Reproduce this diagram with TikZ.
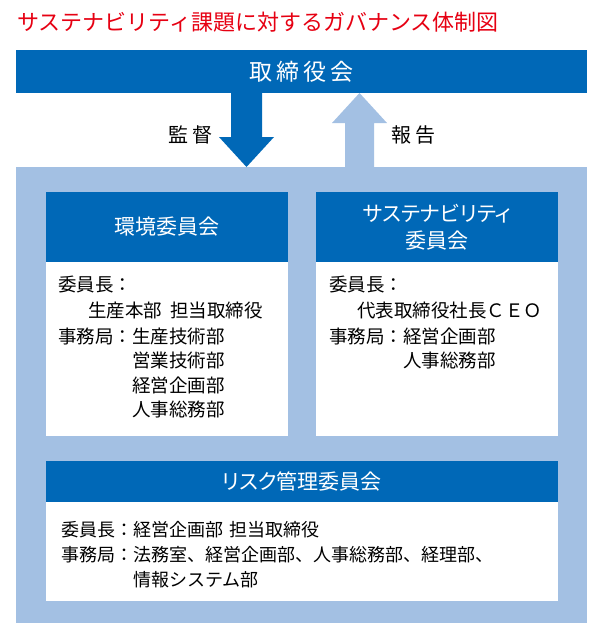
\documentclass[tikz,border=0pt]{standalone}
\usepackage{fontspec}
\setmainfont{Noto Sans CJK JP}
\newfontfamily\paltfont{Noto Sans CJK JP}[RawFeature=+palt]
\definecolor{dkblue}{RGB}{0,104,183}
\definecolor{ltblue}{RGB}{163,192,227}
\definecolor{titlered}{RGB}{230,0,18}
\tikzset{
  panel/.style={anchor=north west, inner sep=0pt, outer sep=0pt},
  hdrbox/.style={panel, fill=dkblue, text=white, align=center,
    font=\paltfont\fontsize{21}{27}\selectfont},
  bodybox/.style={panel, fill=white},
  bodytxt/.style={anchor=west, inner sep=0pt, font=\fontsize{18.5}{22}\selectfont},
  bodytxtC/.style={anchor=west, inner sep=0pt, font=\fontsize{18}{22}\selectfont},
  lbltxt/.style={inner sep=0pt, font=\fontsize{20}{24}\selectfont},
}
\begin{document}
\begin{tikzpicture}[x=1pt,y=-1pt]
\useasboundingbox (0,0) rectangle (600,635);
% title
\node[anchor=west, inner sep=0pt, text=titlered, font=\fontsize{22}{26}\selectfont] (title) at (17,22) {サステナビリティ課題に対するガバナンス体制図};
% light frame
\node[panel, fill=ltblue, minimum width=571pt, minimum height=456pt] (frame) at (16,167) {};
% board
\node[panel, fill=dkblue, text=white, minimum width=571pt, minimum height=43pt,
  font=\fontsize{23}{26}\selectfont] (board) at (16,50) {取\hspace{4pt}締\hspace{4pt}役\hspace{4pt}会};
% arrows
\fill[dkblue] (231,93) -- (262,93) -- (262,137) -- (274,137) -- (246.5,167) -- (219,137) -- (231,137) -- cycle;
\fill[ltblue] (345,167) -- (374,167) -- (374,123) -- (387,123) -- (359.5,93) -- (332,123) -- (345,123) -- cycle;
\node[lbltxt] (lblsup) at (190,135) {監\hspace{4pt}督};
\node[lbltxt] (lblrep) at (413,135) {報\hspace{4pt}告};
% box 1
\node[hdrbox, minimum width=242pt, minimum height=70pt] (hdrA) at (46,192) {環境委員会};
\node[bodybox, minimum width=242pt, minimum height=174pt] (bodyA) at (46,262) {};
\node[bodytxt] (a1) at (58,285) {委員長：};
\node[bodytxt] (a2) at (88,310) {生産本部\hspace{8pt}担当取締役};
\node[bodytxt] (a3) at (58,336) {事務局：生産技術部};
\node[bodytxt] (a4) at (132,360) {営業技術部};
\node[bodytxt] (a5) at (132,385) {経営企画部};
\node[bodytxt] (a6) at (132,409) {人事総務部};
% box 2
\node[hdrbox, minimum width=242pt, minimum height=70pt] (hdrB) at (316,192) {サステナビリティ\\委員会};
\node[bodybox, minimum width=242pt, minimum height=174pt] (bodyB) at (316,262) {};
\node[bodytxt] (b1) at (329,285) {委員長：};
\node[bodytxt] (b2) at (357,310) {代表取締役社長ＣＥＯ};
\node[bodytxt] (b3) at (329,336) {事務局：経営企画部};
\node[bodytxt] (b4) at (403,360) {人事総務部};
% box 3
\node[hdrbox, minimum width=512pt, minimum height=41pt] (hdrC) at (46,461) {リスク管理委員会};
\node[bodybox, minimum width=512pt, minimum height=99pt] (bodyC) at (46,502) {};
\node[bodytxtC] (c1) at (61,530) {委員長：経営企画部\hspace{6pt}担当取締役};
\node[bodytxtC] (c2) at (61,555) {事務局：法務室、経営企画部、人事総務部、経理部、};
\node[bodytxtC] (c3) at (133,580) {情報システム部};
\end{tikzpicture}
\end{document}
